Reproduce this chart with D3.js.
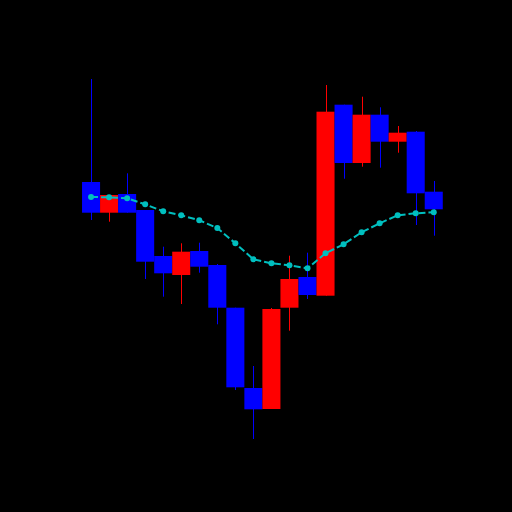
<!DOCTYPE html>
<html>
<head>
<meta charset="utf-8">
<script src="https://cdn.jsdelivr.net/npm/d3@7"></script>
<style>
  html, body { margin: 0; padding: 0; background: #000; }
</style>
</head>
<body>
<div id="chart"></div>
<script>
// candle data
let opens  = [107.7, 104.63, 106.5, 104.9, 100.3, 98.4, 100.8, 99.4, 95.13, 87.1,
              85.0, 95.13, 98.2, 96.33, 115.43, 109.6, 114.43, 111.73, 112.73, 106.73];
let closes = [104.63, 106.4, 104.63, 99.73, 98.57, 100.73, 99.23, 95.13, 87.17, 84.97,
              95.0, 98.0, 96.4, 114.73, 109.6, 114.43, 111.73, 112.63, 106.57, 104.97];
let highs  = [118.0, 106.4, 108.57, 104.9, 101.23, 101.57, 101.63, 99.5, 95.13, 89.3,
              95.1, 100.33, 100.63, 117.4, 115.43, 116.23, 115.17, 113.3, 112.8, 107.8];
let lows   = [103.9, 103.73, 104.63, 98.0, 96.23, 95.5, 98.63, 93.47, 86.9, 82.0,
              85.0, 92.83, 96.0, 96.33, 108.03, 109.23, 109.13, 110.63, 103.4, 102.33];
// moving average
let ma     = [106.2, 106.17, 106.07, 105.47, 104.77, 104.37, 103.87, 103.1, 101.57, 99.97,
              99.57, 99.37, 99.07, 100.57, 101.47, 102.67, 103.57, 104.37, 104.57, 104.67];

let size = 512;
let padLeft = 64, padRight = 460.8, padTop = 61, padBottom = 457;

let candles = opens.map((o, i) => ({i: i, o: o, c: closes[i], h: highs[i], l: lows[i]}));

let svg = d3.select("#chart")
  .append("svg")
  .attr("width", size)
  .attr("height", size)
  .style("background", "#000");

let xScale = d3.scaleLinear()
  .domain([-1.5, candles.length + 0.5])
  .range([padLeft, padRight]);

let lo = d3.min(lows), hi = d3.max(highs);
let margin = (hi - lo) * 0.05;
let yScale = d3.scaleLinear()
  .domain([lo - margin, hi + margin])
  .range([padBottom, padTop]);

// axes exist but are black on black
svg.append("g")
  .attr("transform", "translate(0," + padBottom + ")")
  .call(d3.axisBottom(xScale).ticks(5))
  .call(g => g.selectAll("line,path").attr("stroke", "#000"))
  .call(g => g.selectAll("text").attr("fill", "#000"));

svg.append("g")
  .attr("transform", "translate(" + padLeft + ",0)")
  .call(d3.axisLeft(yScale).ticks(5))
  .call(g => g.selectAll("line,path").attr("stroke", "#000"))
  .call(g => g.selectAll("text").attr("fill", "#000"));

let color = d => d.c >= d.o ? "#ff0000" : "#0000ff";
let bw = xScale(1) - xScale(0);

// wicks
svg.append("g")
  .selectAll("line")
  .data(candles)
  .enter()
  .append("line")
  .attr("x1", d => Math.round(xScale(d.i)) + 0.5)
  .attr("x2", d => Math.round(xScale(d.i)) + 0.5)
  .attr("y1", d => yScale(d.h))
  .attr("y2", d => yScale(d.l))
  .attr("stroke", color)
  .attr("stroke-width", 1);

// bodies
svg.append("g")
  .selectAll("rect")
  .data(candles)
  .enter()
  .append("rect")
  .attr("x", d => xScale(d.i - 0.5))
  .attr("width", bw)
  .attr("y", d => yScale(Math.max(d.o, d.c)))
  .attr("height", d => Math.max(1, Math.abs(yScale(d.o) - yScale(d.c))))
  .attr("fill", color);

// moving average line
let lineCreator = d3.line()
  .x((d, i) => xScale(i))
  .y(d => yScale(d));

svg.append("path")
  .datum(ma)
  .attr("fill", "none")
  .attr("stroke", "#00bfbf")
  .attr("stroke-width", 2)
  .attr("stroke-dasharray", "7,3")
  .attr("d", lineCreator);

svg.append("g")
  .selectAll("circle")
  .data(ma)
  .enter()
  .append("circle")
  .attr("cx", (d, i) => xScale(i))
  .attr("cy", d => yScale(d))
  .attr("r", 3)
  .attr("fill", "#00bfbf");
</script>
</body>
</html>
